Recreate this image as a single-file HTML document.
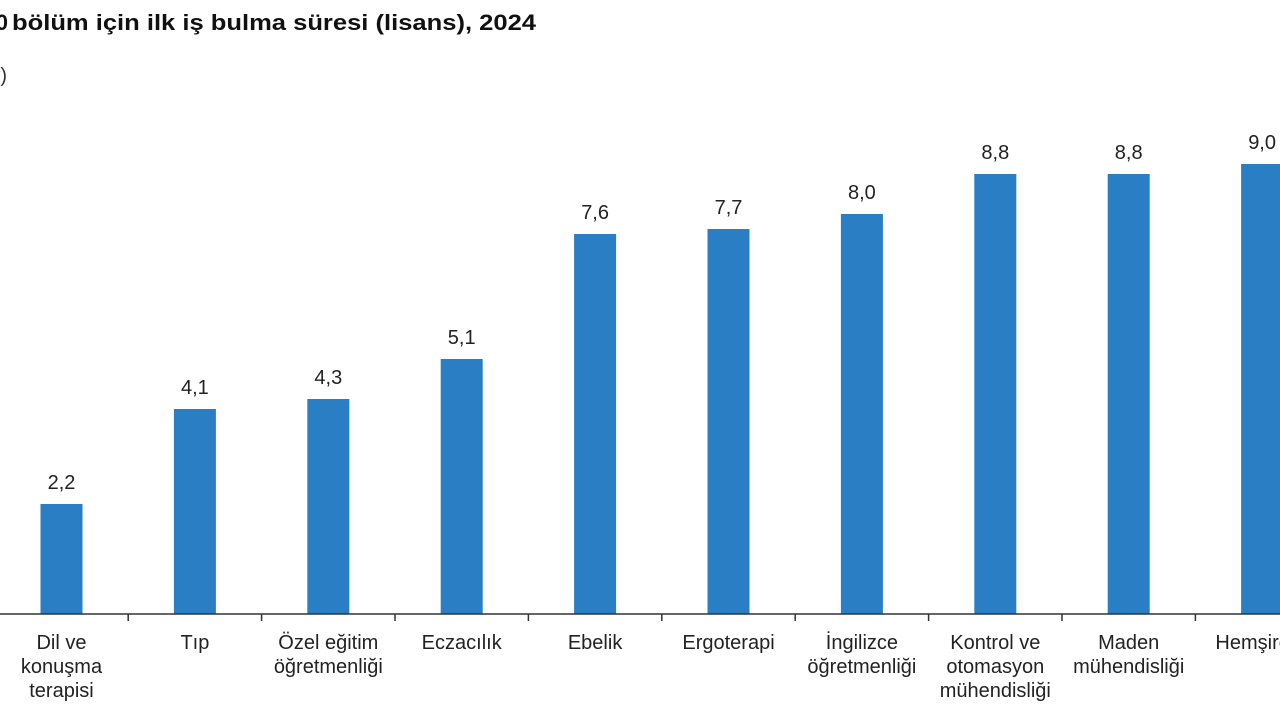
<!DOCTYPE html>
<html><head><meta charset="utf-8"><style>
html,body{margin:0;padding:0;background:#fff;width:1280px;height:720px;overflow:hidden}
svg{display:block;font-family:"Liberation Sans",Arial,sans-serif}
</style></head><body>
<svg id="chart" width="1280" height="720">
<text x="8" y="30" text-anchor="end" font-size="22" font-weight="bold" fill="#111">En uzun 10</text>
<text x="12" y="30" font-size="22" font-weight="bold" fill="#111" textLength="524" lengthAdjust="spacingAndGlyphs">bölüm için ilk iş bulma süresi (lisans), 2024</text>
<text x="7" y="82" text-anchor="end" font-size="20" fill="#333">(Ay)</text>
<g id="bars"></g>
<line x1="0" y1="614" x2="1280" y2="614" stroke="#333" stroke-width="1.5"/>
<g id="xlabels"></g>
</svg>
<script>
const categories = [["Dil ve","konuşma","terapisi"],["Tıp"],["Özel eğitim","öğretmenliği"],["Eczacılık"],["Ebelik"],["Ergoterapi"],["İngilizce","öğretmenliği"],["Kontrol ve","otomasyon","mühendisliği"],["Maden","mühendisliği"],["Hemşirelik"]];
const values = [2.2,4.1,4.3,5.1,7.6,7.7,8.0,8.8,8.8,9.0];
const valueLabels = ["2,2","4,1","4,3","5,1","7,6","7,7","8,0","8,8","8,8","9,0"];
const NS="http://www.w3.org/2000/svg";
const base=614, unit=50, x0=61.5, step=133.4, bw=42;
const xs=i=>x0+i*step;
const ys=v=>base-v*unit;
const gb=document.getElementById('bars'), gl=document.getElementById('xlabels');
function mk(tag,attrs,parent){const e=document.createElementNS(NS,tag);for(const k in attrs)e.setAttribute(k,attrs[k]);parent.appendChild(e);return e;}
values.forEach((v,i)=>{
  const r=mk('rect',{x:xs(i)-bw/2,y:ys(v),width:bw,height:base-ys(v),fill:'#2a7ec4'},gb);
  
  
  const t=mk('text',{x:xs(i),y:ys(v)-15,'text-anchor':'middle','font-size':20,fill:'#222'},gb);
  t.textContent=valueLabels[i];
  
  
  const tk=mk('line',{x1:xs(i)+step/2,x2:xs(i)+step/2,y1:base,y2:base+7,stroke:'#333','stroke-width':1.5},gl);
  
  
  const lab=mk('text',{'text-anchor':'middle','font-size':20,fill:'#222'},gl);
  
  
  categories[i].forEach((s,j)=>{const ts=mk('tspan',{x:xs(i),y:649+j*24},lab);ts.textContent=s;});
});
</script>
</body></html>
